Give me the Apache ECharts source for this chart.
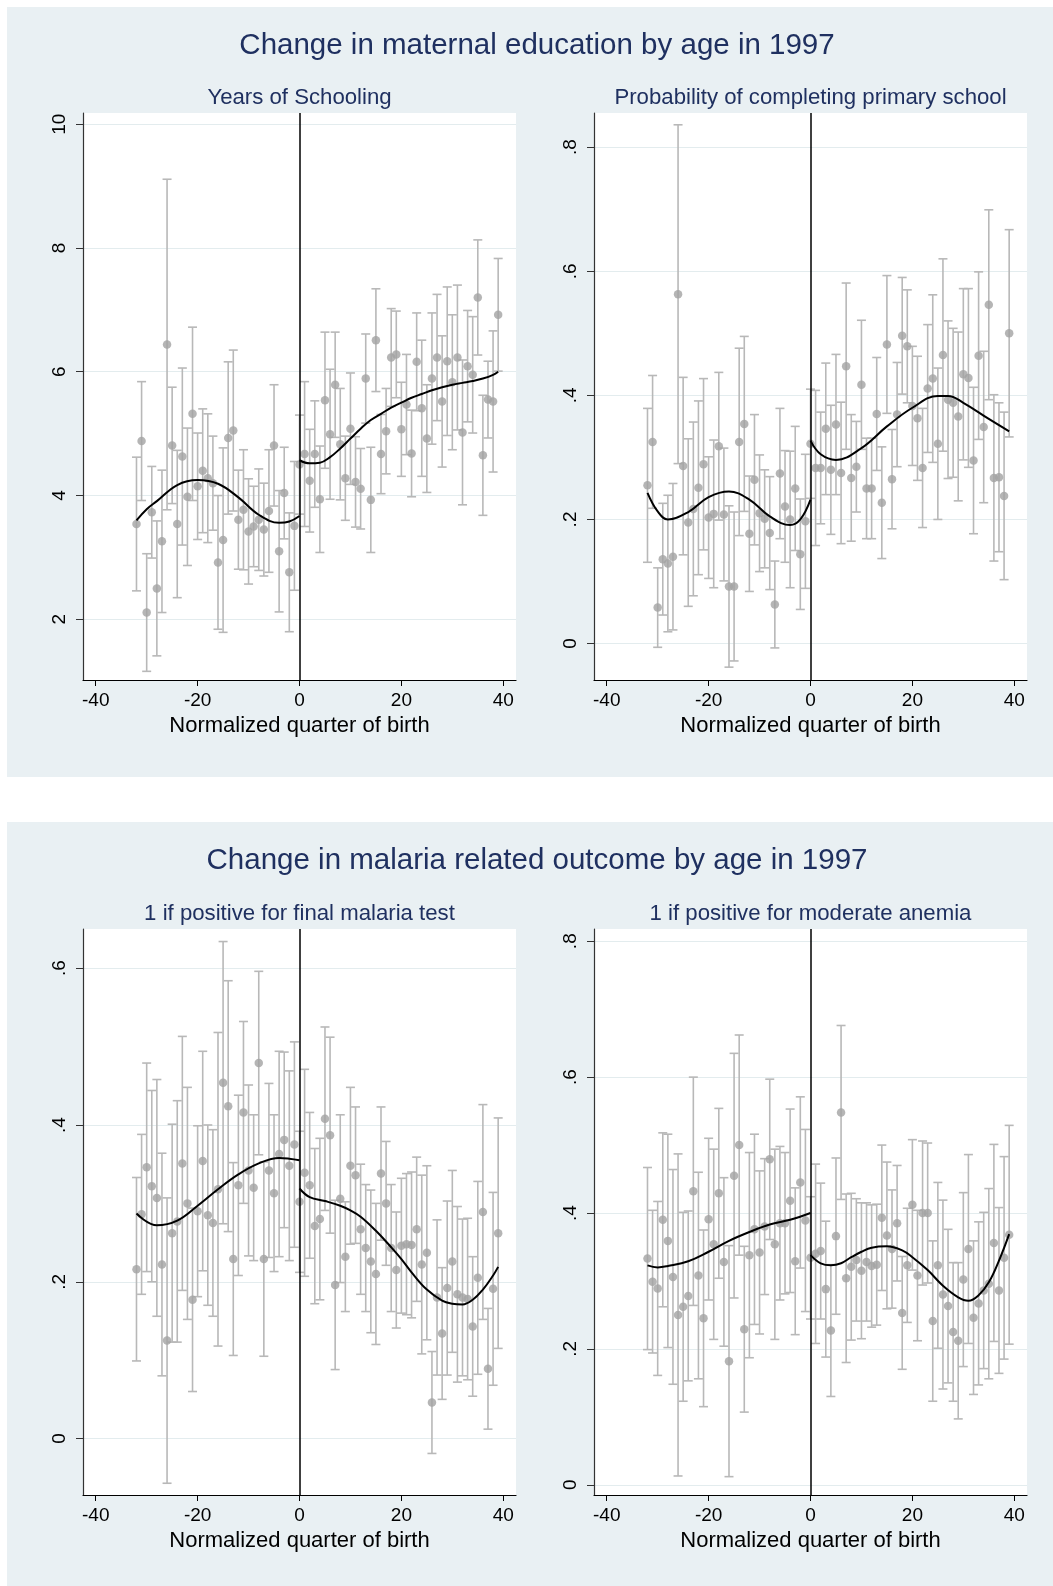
<!DOCTYPE html>
<html>
<head>
<meta charset="utf-8">
<script src="https://cdn.jsdelivr.net/npm/echarts@6/dist/echarts.min.js"></script>
<style>
html,body{margin:0;padding:0;background:#fff;}
#chart{width:1053px;height:1586px;}
</style>
</head>
<body>
<div id="chart"></div>
<script>
// ---------------- DATA ----------------
const quarters = [-32,-31,-30,-29,-28,-27,-26,-25,-24,-23,-22,-21,-20,-19,-18,-17,-16,-15,-14,-13,-12,-11,-10,-9,-8,-7,-6,-5,-4,-3,-2,-1,0,
  1,2,3,4,5,6,7,8,9,10,11,12,13,14,15,16,17,18,19,20,21,22,23,24,25,26,27,28,29,30,31,32,33,34,35,36,37,38,39];

const xTicks = [-40,-20,0,20,40];
const xTitle = 'Normalized quarter of birth';

// Panel 1: Years of Schooling
const p1Title = 'Years of Schooling';
const p1Mean = [3.54,4.88,2.11,3.73,2.50,3.26,6.44,4.81,3.54,4.63,3.98,5.32,4.15,4.40,4.28,4.20,2.92,3.28,4.93,5.05,3.61,3.77,3.42,3.50,3.61,3.45,3.75,4.81,3.10,4.04,2.76,3.51,4.50,
  4.67,4.24,4.67,3.94,5.54,4.99,5.79,4.83,4.28,5.08,4.22,4.11,5.89,3.93,6.51,4.67,5.04,6.23,6.28,5.07,5.47,4.68,6.16,5.41,4.92,5.89,6.23,5.52,6.17,5.83,6.23,5.02,6.09,5.95,7.20,4.65,5.55,5.52,6.92];
const p1Half = [1.08,0.96,0.95,0.74,1.09,1.15,2.67,0.94,1.19,1.43,1.11,1.40,0.86,1.00,1.04,0.76,1.08,1.49,1.23,1.30,0.80,0.97,0.85,0.65,0.82,0.75,0.99,0.98,0.98,0.74,0.96,1.04,0.80,
  1.17,0.83,0.86,0.86,1.10,1.05,0.85,0.90,0.68,0.90,0.73,0.65,0.72,0.85,0.83,0.64,0.69,0.79,0.70,0.76,0.81,0.70,0.79,1.10,0.87,1.06,1.02,1.06,1.20,1.09,1.17,1.17,0.90,0.94,0.93,0.97,0.62,1.14,0.91];
const p1FitLeftX = [-32,-30,-28,-24,-20,-16,-12,-8,-4,-2,0];
const p1FitLeftY = [3.60,3.78,3.91,4.17,4.25,4.19,3.97,3.69,3.56,3.58,3.67];
const p1FitRightX = [0,2,4,6,8,10,12,14,16,18,20,22,24,26,28,30,32,34,36,38,39];
const p1FitRightY = [4.57,4.52,4.53,4.62,4.76,4.92,5.08,5.22,5.32,5.42,5.50,5.58,5.64,5.70,5.75,5.79,5.82,5.85,5.89,5.95,6.00];
const p1Ticks = [2,4,6,8,10];
const p1TickLabels = ['2','4','6','8','10'];

// Panel 2: Probability of completing primary school
const p2Title = 'Probability of completing primary school';
const p2Mean = [0.255,0.325,0.058,0.136,0.129,0.140,0.563,0.286,0.195,0.217,0.251,0.289,0.203,0.209,0.318,0.208,0.092,0.092,0.325,0.354,0.177,0.264,0.210,0.201,0.178,0.063,0.274,0.221,0.200,0.250,0.144,0.197,0.322,
  0.283,0.283,0.346,0.280,0.353,0.275,0.447,0.267,0.285,0.417,0.250,0.250,0.370,0.227,0.482,0.265,0.369,0.496,0.479,0.383,0.363,0.283,0.411,0.427,0.322,0.465,0.393,0.388,0.366,0.434,0.428,0.295,0.464,0.349,0.546,0.267,0.268,0.238,0.500];
const p2Half = [0.124,0.107,0.064,0.090,0.110,0.118,0.273,0.143,0.135,0.140,0.140,0.138,0.098,0.119,0.119,0.107,0.130,0.120,0.151,0.141,0.093,0.105,0.094,0.079,0.091,0.070,0.105,0.090,0.110,0.100,0.089,0.108,0.088,
  0.125,0.090,0.106,0.104,0.113,0.114,0.134,0.102,0.073,0.104,0.081,0.081,0.091,0.090,0.111,0.080,0.084,0.094,0.091,0.096,0.100,0.096,0.103,0.135,0.122,0.155,0.127,0.120,0.136,0.138,0.144,0.118,0.135,0.122,0.153,0.134,0.120,0.135,0.167];
const p2FitLeftX = [-32,-30,-28,-24,-20,-16,-12,-8,-4,-2,0];
const p2FitLeftY = [0.243,0.213,0.200,0.212,0.236,0.245,0.232,0.205,0.191,0.200,0.232];
const p2FitRightX = [0,2,5,10,15,20,25,27,30,35,39];
const p2FitRightY = [0.327,0.305,0.296,0.315,0.350,0.380,0.399,0.399,0.388,0.362,0.342];
const p2Ticks = [0,0.2,0.4,0.6,0.8];
const p2TickLabels = ['0','.2','.4','.6','.8'];

// Panel 3: 1 if positive for final malaria test
const p3Title = '1 if positive for final malaria test';
const p3Mean = [0.216,0.286,0.346,0.322,0.307,0.222,0.125,0.262,0.277,0.351,0.300,0.177,0.290,0.354,0.285,0.275,0.318,0.454,0.424,0.229,0.323,0.416,0.342,0.320,0.479,0.229,0.342,0.313,0.363,0.381,0.348,0.375,0.302,
  0.339,0.323,0.271,0.280,0.408,0.387,0.196,0.306,0.232,0.348,0.336,0.267,0.243,0.226,0.210,0.338,0.300,0.243,0.215,0.246,0.248,0.247,0.267,0.222,0.237,0.046,0.180,0.134,0.192,0.226,0.184,0.180,0.178,0.143,0.205,0.289,0.089,0.191,0.262];
const p3Half = [0.117,0.102,0.133,0.122,0.151,0.142,0.182,0.139,0.154,0.162,0.148,0.117,0.109,0.140,0.115,0.119,0.200,0.180,0.160,0.123,0.115,0.116,0.109,0.093,0.117,0.124,0.111,0.100,0.131,0.112,0.121,0.131,0.090,
  0.132,0.093,0.099,0.103,0.117,0.125,0.108,0.107,0.070,0.100,0.087,0.083,0.081,0.091,0.090,0.085,0.079,0.081,0.074,0.086,0.090,0.093,0.092,0.114,0.111,0.065,0.099,0.084,0.111,0.116,0.112,0.100,0.103,0.089,0.123,0.137,0.077,0.123,0.147];
const p3FitLeftX = [-32,-28,-24,-20,-16,-12,-8,-4,-2,0];
const p3FitLeftY = [0.287,0.272,0.278,0.297,0.318,0.337,0.351,0.358,0.357,0.355];
const p3FitRightX = [0,2,5,8,10,12,15,18,20,22,25,28,30,32,34,36,38,39];
const p3FitRightY = [0.319,0.308,0.303,0.297,0.291,0.283,0.265,0.244,0.229,0.212,0.190,0.176,0.172,0.171,0.177,0.190,0.208,0.219];
const p3Ticks = [0,0.2,0.4,0.6];
const p3TickLabels = ['0','.2','.4','.6'];

// Panel 4: 1 if positive for moderate anemia
const p4Title = '1 if positive for moderate anemia';
const p4Mean = [0.333,0.299,0.289,0.390,0.359,0.306,0.250,0.262,0.278,0.432,0.308,0.245,0.391,0.354,0.429,0.328,0.182,0.455,0.500,0.229,0.338,0.376,0.342,0.380,0.479,0.354,0.385,0.385,0.418,0.329,0.445,0.389,0.334,
  0.340,0.344,0.288,0.227,0.366,0.548,0.304,0.321,0.331,0.315,0.328,0.322,0.324,0.393,0.367,0.347,0.385,0.253,0.323,0.412,0.308,0.400,0.400,0.241,0.323,0.280,0.263,0.225,0.212,0.302,0.347,0.246,0.267,0.286,0.296,0.356,0.286,0.334,0.368];
const p4Half = [0.134,0.105,0.128,0.128,0.157,0.158,0.237,0.139,0.125,0.168,0.152,0.130,0.119,0.140,0.125,0.124,0.170,0.180,0.162,0.122,0.151,0.140,0.120,0.100,0.118,0.140,0.113,0.104,0.135,0.108,0.126,0.134,0.090,
  0.132,0.100,0.100,0.097,0.115,0.128,0.124,0.108,0.090,0.100,0.087,0.090,0.089,0.107,0.108,0.087,0.085,0.083,0.084,0.096,0.096,0.106,0.103,0.118,0.122,0.139,0.113,0.102,0.115,0.128,0.139,0.113,0.120,0.115,0.140,0.145,0.122,0.149,0.161];
const p4FitLeftX = [-32,-30,-28,-24,-20,-16,-12,-8,-4,0];
const p4FitLeftY = [0.323,0.320,0.322,0.329,0.343,0.359,0.372,0.383,0.390,0.400];
const p4FitRightX = [0,2,4,6,8,10,12,15,18,20,23,26,29,31,33,35,37,39];
const p4FitRightY = [0.338,0.326,0.323,0.326,0.335,0.343,0.349,0.351,0.345,0.335,0.316,0.293,0.276,0.271,0.279,0.298,0.330,0.369];
const p4Ticks = [0,0.2,0.4,0.6,0.8];
const p4TickLabels = ['0','.2','.4','.6','.8'];

const topTitle = 'Change in maternal education by age in 1997';
const bottomTitle = 'Change in malaria related outcome by age in 1997';

// ---------------- LAYOUT / STYLE ----------------
const FONT = '"Liberation Sans", Arial, Helvetica, sans-serif';
const NAVY = '#1f3060';
const BG = '#e9f0f3';
const DOT = '#a3a3a3';
const BAR = '#b8b8b8';

const panels = [
  {title: p1Title, mean: p1Mean, half: p1Half, lx: p1FitLeftX, ly: p1FitLeftY, rx: p1FitRightX, ry: p1FitRightY, ticks: p1Ticks, labels: p1TickLabels,
   grid: {left: 83, top: 113, width: 433, height: 567}, ymin: 1.02, ymax: 10.18},
  {title: p2Title, mean: p2Mean, half: p2Half, lx: p2FitLeftX, ly: p2FitLeftY, rx: p2FitRightX, ry: p2FitRightY, ticks: p2Ticks, labels: p2TickLabels,
   grid: {left: 594, top: 113, width: 433, height: 567}, ymin: -0.0587, ymax: 0.855},
  {title: p3Title, mean: p3Mean, half: p3Half, lx: p3FitLeftX, ly: p3FitLeftY, rx: p3FitRightX, ry: p3FitRightY, ticks: p3Ticks, labels: p3TickLabels,
   grid: {left: 83, top: 929, width: 433, height: 566}, ymin: -0.072, ymax: 0.650},
  {title: p4Title, mean: p4Mean, half: p4Half, lx: p4FitLeftX, ly: p4FitLeftY, rx: p4FitRightX, ry: p4FitRightY, ticks: p4Ticks, labels: p4TickLabels,
   grid: {left: 594, top: 929, width: 433, height: 566}, ymin: -0.015, ymax: 0.818}
];

const grids = [], xAxes = [], yAxes = [], series = [];
const graphics = [
  {type: 'rect', shape: {x: 7, y: 7, width: 1046, height: 770}, style: {fill: BG}, z: -10, silent: true},
  {type: 'rect', shape: {x: 7, y: 822, width: 1046, height: 764}, style: {fill: BG}, z: -10, silent: true},
  {type: 'text', x: 537, y: 46, style: {text: topTitle, font: '29.5px ' + FONT, fill: NAVY, textAlign: 'center', textVerticalAlign: 'middle'}},
  {type: 'text', x: 537, y: 861, style: {text: bottomTitle, font: '29.5px ' + FONT, fill: NAVY, textAlign: 'center', textVerticalAlign: 'middle'}}
];

panels.forEach((p, i) => {
  grids.push(Object.assign({show: true, backgroundColor: '#ffffff', borderWidth: 0, containLabel: false}, p.grid));
  const cx = p.grid.left + p.grid.width / 2;
  const ty = p.grid.top - 15;
  graphics.push({type: 'text', x: cx, y: ty, style: {text: p.title, font: '22.2px ' + FONT, fill: NAVY, textAlign: 'center', textVerticalAlign: 'middle'}});

  xAxes.push({
    gridIndex: i, type: 'value', min: -42.5, max: 42.5,
    axisLine: {show: true, onZero: false, lineStyle: {color: '#000', width: 1.2}},
    axisTick: {show: true, length: 6, customValues: xTicks, lineStyle: {color: '#000'}},
    axisLabel: {customValues: xTicks, margin: 11, color: '#000', fontSize: 19, fontFamily: FONT, formatter: v => String(v)},
    splitLine: {show: false},
    name: xTitle, nameLocation: 'middle', nameGap: 35,
    nameTextStyle: {color: '#000', fontSize: 22, fontFamily: FONT}
  });
  yAxes.push({
    gridIndex: i, type: 'value', min: p.ymin, max: p.ymax,
    axisLine: {show: true, onZero: false, lineStyle: {color: '#333', width: 1.2}},
    axisTick: {show: true, length: 7, customValues: p.ticks, lineStyle: {color: '#333'}},
    axisLabel: {customValues: p.ticks, rotate: 90, margin: 14, color: '#000', fontSize: 19, fontFamily: FONT,
      formatter: v => { const k = p.ticks.findIndex(t => Math.abs(t - v) < 1e-9); return k >= 0 ? p.labels[k] : ''; }},
    splitLine: {show: true, lineStyle: {color: '#e3ecee', width: 1}}
  });

  const bars = quarters.map((q, k) => [q, p.mean[k], p.half[k]]);
  series.push({
    type: 'custom', xAxisIndex: i, yAxisIndex: i, z: 1, silent: true, clip: true,
    data: bars,
    renderItem: (params, api) => {
      const x = api.value(0), m = api.value(1), h = api.value(2);
      const top = api.coord([x, m + h]);
      const bot = api.coord([x, m - h]);
      const cw = 4.5;
      const st = {stroke: BAR, lineWidth: 1.6};
      return {type: 'group', children: [
        {type: 'line', shape: {x1: top[0], y1: top[1], x2: bot[0], y2: bot[1]}, style: st},
        {type: 'line', shape: {x1: top[0] - cw, y1: top[1], x2: top[0] + cw, y2: top[1]}, style: st},
        {type: 'line', shape: {x1: bot[0] - cw, y1: bot[1], x2: bot[0] + cw, y2: bot[1]}, style: st}
      ]};
    }
  });
  series.push({
    type: 'scatter', xAxisIndex: i, yAxisIndex: i, z: 2, silent: true,
    symbol: 'circle', symbolSize: 8.5, itemStyle: {color: DOT},
    data: quarters.map((q, k) => [q, p.mean[k]])
  });
  series.push({
    type: 'line', xAxisIndex: i, yAxisIndex: i, z: 3, silent: true, smooth: 0.4, symbol: 'none',
    lineStyle: {color: '#000', width: 2},
    data: p.lx.map((x, k) => [x, p.ly[k]]),
    markLine: {silent: true, symbol: 'none', label: {show: false}, animation: false,
      lineStyle: {color: '#000', width: 1.5, type: 'solid'}, data: [{xAxis: 0}]}
  });
  series.push({
    type: 'line', xAxisIndex: i, yAxisIndex: i, z: 3, silent: true, smooth: 0.4, symbol: 'none',
    lineStyle: {color: '#000', width: 2},
    data: p.rx.map((x, k) => [x, p.ry[k]])
  });
});

const chart = echarts.init(document.getElementById('chart'), null, {renderer: 'canvas'});
chart.setOption({
  backgroundColor: '#ffffff',
  animation: false,
  textStyle: {fontFamily: FONT},
  graphic: {elements: graphics},
  grid: grids, xAxis: xAxes, yAxis: yAxes, series: series
});
</script>
</body>
</html>
